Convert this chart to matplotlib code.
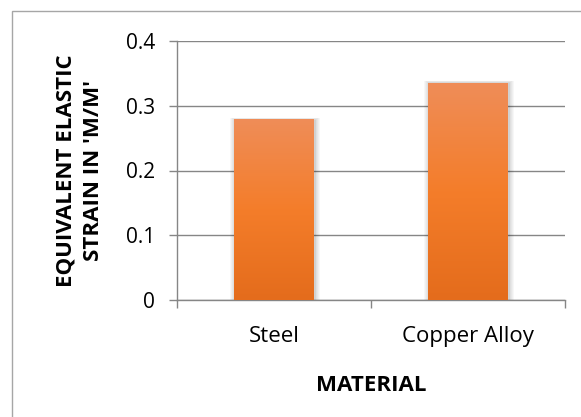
import numpy as np
import matplotlib
matplotlib.use("Agg")
import matplotlib.pyplot as plt
from matplotlib.colors import LinearSegmentedColormap
from matplotlib.patches import Rectangle

# chart data
materials = ["Steel", "Copper Alloy"]
strain = [0.278, 0.335]
y_ticks = [0, 0.1, 0.2, 0.3, 0.4]
y_tick_labels = ["0", "0.1", "0.2", "0.3", "0.4"]

plt.rcParams['font.family'] = ['Open Sans', 'DejaVu Sans']

fig = plt.figure(figsize=(5.81, 4.17), dpi=100)
ax = fig.add_axes([177 / 581, 1 - 300 / 417, (565 - 177) / 581, (300 - 41) / 417])

# outer chart border (Excel-like frame)
fig.patches.append(Rectangle((12 / 581, -0.2), 1.2, 1.2 - 11 / 417,
                             transform=fig.transFigure, fill=False,
                             edgecolor="#a6a6a6", linewidth=1.0))

bar_w = 0.41
x = np.arange(len(materials))
grad = LinearSegmentedColormap.from_list("bar", ["#e46c1c", "#f47d2a", "#ef8d58"])
px_x = 1 / 194.0
px_y = 0.4 / 259.0

for xi, v in zip(x, strain):
    # soft shadow around the bar
    for k in range(1, 7):
        ax.add_patch(Rectangle((xi - bar_w / 2 - k * px_x * 0.8 + px_x, 0),
                               bar_w + 2 * k * px_x * 0.8, v + k * px_y * 0.4,
                               facecolor="#000000", alpha=0.03, linewidth=0, zorder=2))
    img = np.linspace(0, 1, 256).reshape(-1, 1)
    ax.imshow(img, cmap=grad, origin="lower", aspect="auto",
              extent=[xi - bar_w / 2, xi + bar_w / 2, 0, v], zorder=3)

ax.set_xlim(-0.5, len(materials) - 0.5)
ax.set_ylim(0, 0.4)

ax.set_yticks(y_ticks)
ax.set_yticklabels(y_tick_labels, fontsize=15)
ax.yaxis.grid(True, color="#868686", linewidth=1.0)
ax.set_axisbelow(True)

ax.set_xticks(x)
ax.set_xticklabels(materials, fontsize=16)
ax.set_xticks([-0.5, 0.5, 1.5], minor=True)
ax.tick_params(axis="x", which="major", length=0, pad=19)
ax.tick_params(axis="x", which="minor", length=6, color="#868686", width=1.0)
ax.tick_params(axis="y", length=6, color="#868686", width=1.0, pad=10)

for s in ["top", "right"]:
    ax.spines[s].set_visible(False)
for s in ["left", "bottom"]:
    ax.spines[s].set_color("#868686")
    ax.spines[s].set_linewidth(1.0)

ax.set_xlabel("MATERIAL", fontsize=16, fontweight="bold", labelpad=20)
ax.set_ylabel("EQUIVALENT ELASTIC\nSTRAIN IN 'M/M'", fontsize=16,
              fontweight="bold", linespacing=1.4)
ax.yaxis.label.set_va("center")
ax.yaxis.set_label_coords(-0.25, 0.5)

fig.savefig("out.png", dpi=100)
